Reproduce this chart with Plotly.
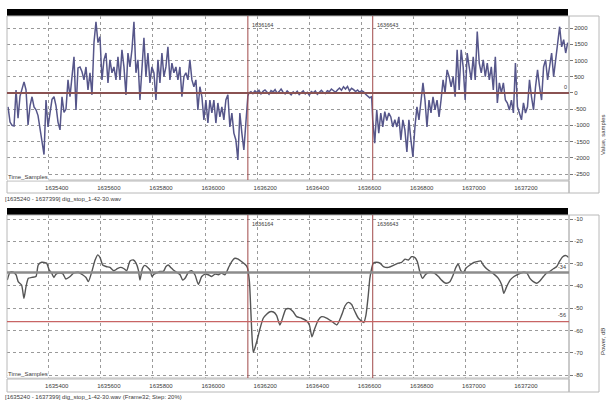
import numpy as np
import plotly.graph_objects as go

# ---------------- data ----------------
X_START, X_END = 1635240, 1637399
MARK_A, MARK_B = 1636164, 1636643
x_ticks = [1635400, 1635600, 1635800, 1636000, 1636200, 1636400, 1636600, 1636800, 1637000, 1637200]
wave_ticks = [2000, 1500, 1000, 500, 0, -500, -1000, -1500, -2000, -2500]
power_ticks = [-10, -20, -30, -40, -50, -60, -70, -80]
POWER_LINE_HI = -34
POWER_LINE_LO = -56

# waveform, segment before first marker (values in samples)
wave_a = [-430, -900, -1000, -1020, 90, -780, -100, 150, 340, 90,
          -990, -400, -120, -430, -520, -700, -1050, -1500, -1900, -220,
          -1050, -600, -200, -120, -400, -900, -1140, -120, -600, -500,
          400, -120, 500,
          1110, -525, 770, 800, 650, 400, 800, 90, 620, -60,
          1550, 2190, 1550, 1730, 400, 1020, 1230, 310, 1020, 620,
          800, 400, 1110, 400, 1330, 800, -60, 1230, 800, 1330,
          2190, 620, 1020, -220, 800, 1700, 500, 1230, 310, 800,
          620, -220, 1020, 310, 1230, 500, 800, 1420, 400, 920,
          620, 800, 400, 800, -120, 500, 620, 400, 1020, 400,
          190, 400, -525, 190, -120, -830, -220, -930, -220, -620,
          -220, -930, -310, -740, -430, -830, -220, -60, -1050, -620,
          -1240, -1450, -2070, -620, -1240, -1760, -930, -100]
# quiet segment between the markers
wave_b = [0, 40, -20, 60, 10, 80, -30, 50, 90, 20, -40, 70, 30, 100, -10, 40,
          120, 20, -30, 60, 0, -60, 30, -20, 50, -50, 10, 60, -30, 20, -70, 40,
          0, 60, -40, 30, 80, 10, -20, 70, 40, 120, 60, 20, 90, 150, 80, 190,
          120, 200, 60, 140, 100, 40, 90, 20, 70, 30, -40, -100, -150, -120]
# segment after second marker
wave_c = [-830, -1550, -525, -1240, -620, -1050, -580, -850, -620, -740,
          -1050, -830, -1050, -740, -1450, -830, -1140, -1820, -830, -1450,
          -1970, -1050, -430, -830, -220, 310, -220, -1050, -220, -620,
          -120, -525, -220, -740, -220, 400, 0, 710, 500, 190,
          500, -120, 1330, 90, 1330, 800, -220, 1230, 800, 400,
          1110, 400, 1890, 920, 620, 1020, 500, 920, 400, 800,
          90, 1110, -310, 310, 0, 310, -220, -310, -525, -220,
          -620, 920, -430, -620, -830, -310, -620, -430, 400, -120,
          -525, 190, 710, 190, -220, 800, 1020, 400, 800, 1230,
          500, 1020, 1550, 2040, 1420, 1640, 1230, 1550]

wave_x = np.concatenate([
    np.linspace(1635244, 1636164, len(wave_a)),
    np.linspace(1636168, 1636639, len(wave_b)),
    np.linspace(1636643, 1637391, len(wave_c)),
])
wave_y = np.array(wave_a + wave_b + wave_c)

# power, dB
power_x = [1635241, 1635252, 1635264, 1635275, 1635283, 1635296, 1635305, 1635313, 1635322, 1635335,
           1635351, 1635360, 1635373, 1635392, 1635402, 1635411, 1635420, 1635428, 1635441, 1635454,
           1635466, 1635482, 1635497, 1635514, 1635530, 1635543, 1635552, 1635565, 1635578, 1635588,
           1635597, 1635607, 1635620, 1635635, 1635650, 1635663, 1635676, 1635689, 1635699, 1635712,
           1635725, 1635735, 1635744, 1635750, 1635760, 1635769, 1635780, 1635789, 1635796, 1635804,
           1635814, 1635827, 1635840, 1635850, 1635859, 1635868, 1635878, 1635891, 1635904, 1635914,
           1635923, 1635936, 1635948, 1635961, 1635974, 1635987, 1636000, 1636012, 1636025, 1636038,
           1636051, 1636063, 1636076, 1636089, 1636102, 1636114, 1636127, 1636140, 1636153, 1636162,
           1636170, 1636175, 1636179, 1636185, 1636198, 1636211, 1636223, 1636236, 1636249, 1636262,
           1636274, 1636287, 1636297, 1636310, 1636323, 1636338, 1636351, 1636370, 1636390, 1636400,
           1636410, 1636421, 1636434, 1636447, 1636466, 1636485, 1636505, 1636524, 1636537, 1636549,
           1636562, 1636575, 1636588, 1636601, 1636609, 1636617, 1636626, 1636632, 1636639, 1636645,
           1636658, 1636671, 1636684, 1636703, 1636722, 1636741, 1636754, 1636767, 1636780, 1636792,
           1636805, 1636814, 1636824, 1636834, 1636847, 1636863, 1636878, 1636895, 1636907, 1636924,
           1636939, 1636952, 1636962, 1636971, 1636980, 1636990, 1637001, 1637016, 1637031, 1637044,
           1637057, 1637067, 1637080, 1637093, 1637108, 1637125, 1637138, 1637146, 1637157, 1637170,
           1637185, 1637202, 1637221, 1637234, 1637246, 1637259, 1637272, 1637285, 1637298, 1637310,
           1637323, 1637336, 1637349, 1637359, 1637372, 1637385, 1637395]
power_y = [-37.4, -33.9, -33.8, -35.1, -38.1, -39.6, -45.6, -40.3, -36.6, -36.2,
           -35.8, -30.6, -29.4, -29.8, -32.9, -34.2, -36.2, -34.7, -34.2, -34.5,
           -36.9, -35.8, -34.2, -33.9, -35.0, -36.2, -38.1, -33.8, -28.4, -26.1,
           -27.3, -30.6, -31.3, -31.7, -33.2, -32.3, -31.7, -32.3, -33.2, -28.8,
           -28.4, -29.8, -32.9, -37.4, -32.0, -30.8, -31.7, -32.9, -35.8, -34.7,
           -34.2, -33.5, -33.5, -31.3, -30.6, -31.7, -32.9, -33.9, -35.0, -37.4,
           -36.6, -33.9, -33.2, -35.0, -39.3, -35.8, -34.7, -35.0, -35.8, -34.7,
           -35.0, -34.2, -35.0, -32.0, -29.1, -27.6, -28.0, -29.1, -30.3, -31.7,
           -38.1, -50.0, -60.5, -69.8, -65.0, -59.0, -54.5, -52.7, -51.6, -51.7,
           -53.2, -57.5, -54.5, -50.4, -50.2, -51.6, -53.8, -54.5, -55.8, -57.5,
           -62.8, -59.0, -55.3, -53.8, -54.4, -55.8, -57.5, -53.0, -48.9, -47.4,
           -48.3, -51.6, -54.5, -55.8, -56.4, -53.1, -44.1, -36.6, -32.1, -29.8,
           -29.4, -29.8, -31.3, -31.7, -30.8, -29.8, -29.4, -28.0, -28.4, -26.9,
           -27.3, -29.1, -33.8, -36.6, -34.7, -33.9, -34.2, -35.8, -37.4, -38.8,
           -38.1, -35.0, -31.7, -30.3, -32.9, -34.2, -32.0, -30.6, -29.5, -29.1,
           -28.8, -30.6, -32.3, -33.5, -34.7, -36.6, -39.6, -43.3, -40.3, -37.4,
           -35.8, -34.7, -33.9, -34.2, -36.6, -38.1, -38.8, -37.7, -35.8, -34.2,
           -33.5, -32.3, -31.3, -29.1, -26.9, -26.4, -27.3]

caption_top = "[1635240 - 1637399] dig_stop_1-42-30.wav"
caption_bottom = "[1635240 - 1637399] dig_stop_1-42-30.wav (Frame32; Step: 20%)"

# ---------------- layout helpers ----------------
W, H = 607, 403
def px(x):
    return x / W
def py(y):
    return 1 - y / H

FONT = "Liberation Sans"
TXT = "#3a3a3a"
GRID = "#9a9a9a"
BOX = "#b8b8b8"
MARK = "#a04848"

fig = go.Figure()
fig.add_trace(go.Scatter(x=wave_x, y=wave_y, mode="lines",
                         line=dict(color="#56568a", width=1.5),
                         xaxis="x", yaxis="y", hoverinfo="skip"))
fig.add_trace(go.Scatter(x=power_x, y=power_y, mode="lines",
                         line=dict(color="#555555", width=1.4, shape="spline", smoothing=0.6),
                         xaxis="x2", yaxis="y2", hoverinfo="skip"))

xcommon = dict(range=[X_START, 1637396], tickvals=x_ticks, ticktext=[str(v) for v in x_ticks],
               showgrid=True, gridcolor=GRID, griddash="dot", gridwidth=1,
               zeroline=False, showline=False, ticks="outside", ticklen=2,
               tickcolor="rgba(0,0,0,0)", ticklabelshift=8,
               tickfont=dict(family=FONT, size=6, color=TXT))
ycommon = dict(side="right", showgrid=True, gridcolor=GRID, griddash="dot", gridwidth=1,
               zeroline=False, showline=False, ticks="outside", ticklen=3, tickcolor="#777",
               tickfont=dict(family=FONT, size=6, color=TXT))

fig.update_layout(
    width=W, height=H, margin=dict(l=0, r=0, t=0, b=0),
    paper_bgcolor="white", plot_bgcolor="white", showlegend=False,
    xaxis=dict(domain=[px(7), px(569)], anchor="y", **xcommon),
    yaxis=dict(domain=[py(180), py(16)], anchor="x", range=[-2685, 2370],
               tickvals=wave_ticks, ticktext=[str(v) for v in wave_ticks], **ycommon),
    xaxis2=dict(domain=[px(7), px(569)], anchor="y2", **xcommon),
    yaxis2=dict(domain=[py(378), py(215)], anchor="x2", range=[-81.3, -8.2],
                tickvals=power_ticks, ticktext=[str(v) for v in power_ticks], **ycommon),
)

shapes = []
for top, bot, band_bot, xr, yr in [(16, 180, 193, "x", "y"), (215, 378, 392, "x2", "y2")]:
    # black header bar
    shapes.append(dict(type="rect", xref="paper", yref="paper", x0=px(7), x1=px(568),
                       y0=py(top), y1=py(top - 7), fillcolor="black", line_width=0, layer="above"))
    # frames
    shapes.append(dict(type="rect", xref="paper", yref="paper", x0=px(7), x1=px(569),
                       y0=py(bot), y1=py(top), line=dict(color=BOX, width=1)))
    shapes.append(dict(type="rect", xref="paper", yref="paper", x0=px(7), x1=px(569),
                       y0=py(band_bot), y1=py(bot + 1), line=dict(color=BOX, width=1)))
    shapes.append(dict(type="rect", xref="paper", yref="paper", x0=px(569), x1=px(599),
                       y0=py(band_bot), y1=py(top), line=dict(color=BOX, width=1)))
    # markers
    for m in (MARK_A, MARK_B):
        shapes.append(dict(type="line", xref=xr, yref="paper", x0=m, x1=m,
                           y0=py(bot), y1=py(top), line=dict(color=MARK, width=1)))

shapes.append(dict(type="line", xref="paper", yref="y", x0=px(7), x1=px(569), y0=0, y1=0,
                   line=dict(color="#8a5252", width=2)))
shapes.append(dict(type="line", xref="paper", yref="y2", x0=px(7), x1=px(569),
                   y0=POWER_LINE_HI, y1=POWER_LINE_HI, line=dict(color="#8c8c8c", width=2.5)))
shapes.append(dict(type="line", xref="paper", yref="y2", x0=px(7), x1=px(569),
                   y0=POWER_LINE_LO, y1=POWER_LINE_LO, line=dict(color="#c86464", width=1.2)))
fig.update_layout(shapes=shapes)

ann = []
def note(text, x, y, xanchor="left", size=6, **kw):
    ann.append(dict(text=text, xref="paper", yref="paper", x=px(x), y=py(y), xanchor=xanchor,
                    yanchor="middle", showarrow=False,
                    font=dict(family=FONT, size=size, color=TXT), **kw))

for top_txt_y, xr in [(25, "x"), (224, "x2")]:
    for m in (MARK_A, MARK_B):
        ann.append(dict(text=str(m), xref=xr, yref="paper", x=m, y=py(top_txt_y), xanchor="left",
                        xshift=2, yanchor="middle", showarrow=False,
                        font=dict(family=FONT, size=5.5, color=TXT)))

note("Time_Samples", 7, 177, bgcolor="white", borderpad=0)
note("Time_Samples", 7, 374, bgcolor="white", borderpad=0)
note(caption_top, 3, 199, size=6)
note(caption_bottom, 3, 397, size=6)
note("0", 569, 87, xanchor="right", size=5.5)
note(str(POWER_LINE_HI), 568, 267, xanchor="right", size=5.5)
note(str(POWER_LINE_LO), 568, 315, xanchor="right", size=5.5)
ann.append(dict(text="Value, samples", xref="paper", yref="paper", x=px(603), y=py(135),
                textangle=-90, showarrow=False, xanchor="center", yanchor="middle",
                font=dict(family=FONT, size=6, color=TXT)))
ann.append(dict(text="Power, dB", xref="paper", yref="paper", x=px(603), y=py(342),
                textangle=-90, showarrow=False, xanchor="center", yanchor="middle",
                font=dict(family=FONT, size=6, color=TXT)))
fig.update_layout(annotations=ann)

fig.write_html("out.html", config={"displayModeBar": False},
               post_script="document.body.style.margin='0';document.body.style.overflow='hidden';")
